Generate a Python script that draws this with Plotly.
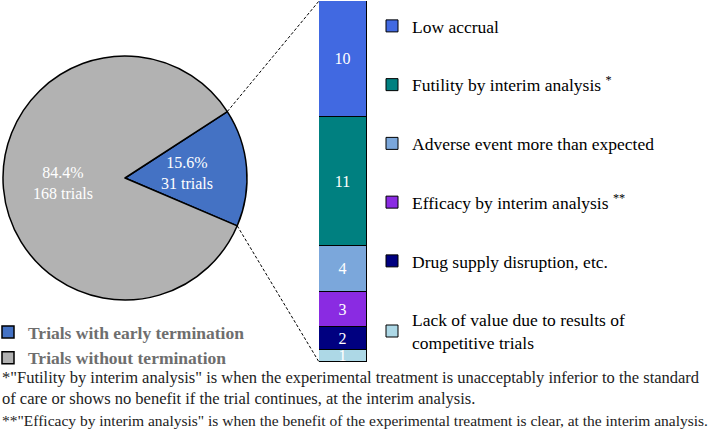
import plotly.graph_objects as go
import math

# ---------------- data ----------------
pie_labels = ["Trials with early termination", "Trials without termination"]
pie_values = [31, 168]
pie_colors = ["#4472C4", "#B2B2B2"]

reason_labels = [
    "Low accrual",
    "Futility by interim analysis <sup>*</sup>",
    "Adverse event more than expected",
    "Efficacy by interim analysis <sup>**</sup>",
    "Drug supply disruption, etc.",
    "Lack of value due to results of<br>competitive trials",
]
reason_values = [10, 11, 4, 3, 2, 1]
reason_colors = ["#4169E1", "#008080", "#7BA7DB", "#8A2BE2", "#000080", "#ADD8E6"]

footnotes = [
    '*"Futility by interim analysis" is when the experimental treatment is unacceptably inferior to the standard',
    'of care or shows no benefit if the trial continues, at the interim analysis.',
    '**"Efficacy by interim analysis" is when the benefit of the experimental treatment is clear, at the interim analysis.',
]

# ---------------- layout constants ----------------
W, H = 708, 439
FONT = "Liberation Serif"
pie_dx = [3 / W, 247 / W]
pie_dy = [1 - 300 / H, 1 - 56 / H]
rotation = 57
bar_dx = [319 / W, 367 / W]
bar_dy = [1 - 362 / H, 1 - 1 / H]
label_r = 0.51

fig = go.Figure()

fig.add_trace(go.Pie(
    labels=pie_labels, values=pie_values, sort=False, direction="clockwise",
    rotation=rotation, domain=dict(x=pie_dx, y=pie_dy),
    marker=dict(colors=pie_colors, line=dict(color="black", width=1.5)),
    textinfo="none",
    legend="legend2", showlegend=True, hoverinfo="label+value+percent",
))

# stacked bar: bottom segment first
n = len(reason_values)
for i in reversed(range(n)):
    fig.add_trace(go.Bar(
        x=[""], y=[reason_values[i]], name=reason_labels[i],
        marker=dict(color=reason_colors[i], line=dict(color="black", width=1)),
        text=[str(reason_values[i])], textposition="inside", textangle=0,
        insidetextanchor="middle", constraintext="none",
        textfont=dict(family=FONT, size=16, color="white"),
        legendgroup=f"g{i}", legendrank=1000 + i,
        xaxis="x", yaxis="y", showlegend=True,
    ))

total = sum(reason_values)
pie_total = sum(pie_values)

# pie geometry (as plotly lays it out)
cx = (pie_dx[0] + pie_dx[1]) / 2 * W
cy = H * (1 - (pie_dy[0] + pie_dy[1]) / 2)
r = min((pie_dx[1] - pie_dx[0]) * W, (pie_dy[1] - pie_dy[0]) * H) / 2

annotations = []
# slice labels
start = rotation
for v in pie_values:
    span = 360 * v / pie_total
    mid = math.radians(start + span / 2)
    px = cx + label_r * r * math.sin(mid)
    py = cy - label_r * r * math.cos(mid)
    annotations.append(dict(text=f"{100 * v / pie_total:.1f}%<br>{v} trials",
                            xref="paper", yref="paper", x=px / W, y=1 - py / H,
                            xanchor="center", yanchor="middle", showarrow=False,
                            font=dict(family=FONT, size=16, color="white")))
    start += span

# connector lines from pie slice edges to bar corners
a0 = math.radians(rotation)
a1 = math.radians(rotation + 360 * pie_values[0] / pie_total)
shapes = []
for ang, by in [(a0, bar_dy[1]), (a1, bar_dy[0])]:
    px = cx + r * math.sin(ang)
    py = cy - r * math.cos(ang)
    shapes.append(dict(type="line", xref="paper", yref="paper",
                       x0=px / W, y0=1 - py / H, x1=bar_dx[0], y1=by,
                       line=dict(color="black", width=1, dash="3px,2px")))

foot_sizes = [16.5, 16.5, 15.5]
for k, line in enumerate(footnotes):
    annotations.append(dict(text=line, xref="paper", yref="paper",
                            x=0, y=1 - (377 + k * 21.5) / H,
                            xanchor="left", yanchor="middle", showarrow=False,
                            font=dict(family=FONT, size=foot_sizes[k], color="#222")))

fig.update_layout(
    width=W, height=H, margin=dict(l=0, r=0, t=0, b=0, autoexpand=False),
    paper_bgcolor="white", plot_bgcolor="white",
    barmode="stack", bargap=0,
    uniformtext=dict(minsize=16, mode="show"),
    xaxis=dict(domain=bar_dx, range=[-0.5, 0.5], visible=False, fixedrange=True),
    yaxis=dict(domain=bar_dy, range=[0, total], visible=False, fixedrange=True),
    shapes=shapes, annotations=annotations,
    legend=dict(x=372 / W, y=1 - 8 / H, xanchor="left", yanchor="top",
                traceorder="grouped", tracegroupgap=33,
                font=dict(family=FONT, size=17.5, color="black"),
                bgcolor="rgba(0,0,0,0)", itemclick=False, itemdoubleclick=False),
    legend2=dict(x=-12 / W, y=1 - 314 / H, xanchor="left", yanchor="top",
                 traceorder="normal",
                 font=dict(family=FONT, size=17.5, color="#6e6e6e", weight="bold"),
                 bgcolor="rgba(0,0,0,0)", itemclick=False, itemdoubleclick=False),
    showlegend=True,
)

fig.write_html("out.html", config={"displayModeBar": False},
               post_script="document.body.style.margin='0';")
